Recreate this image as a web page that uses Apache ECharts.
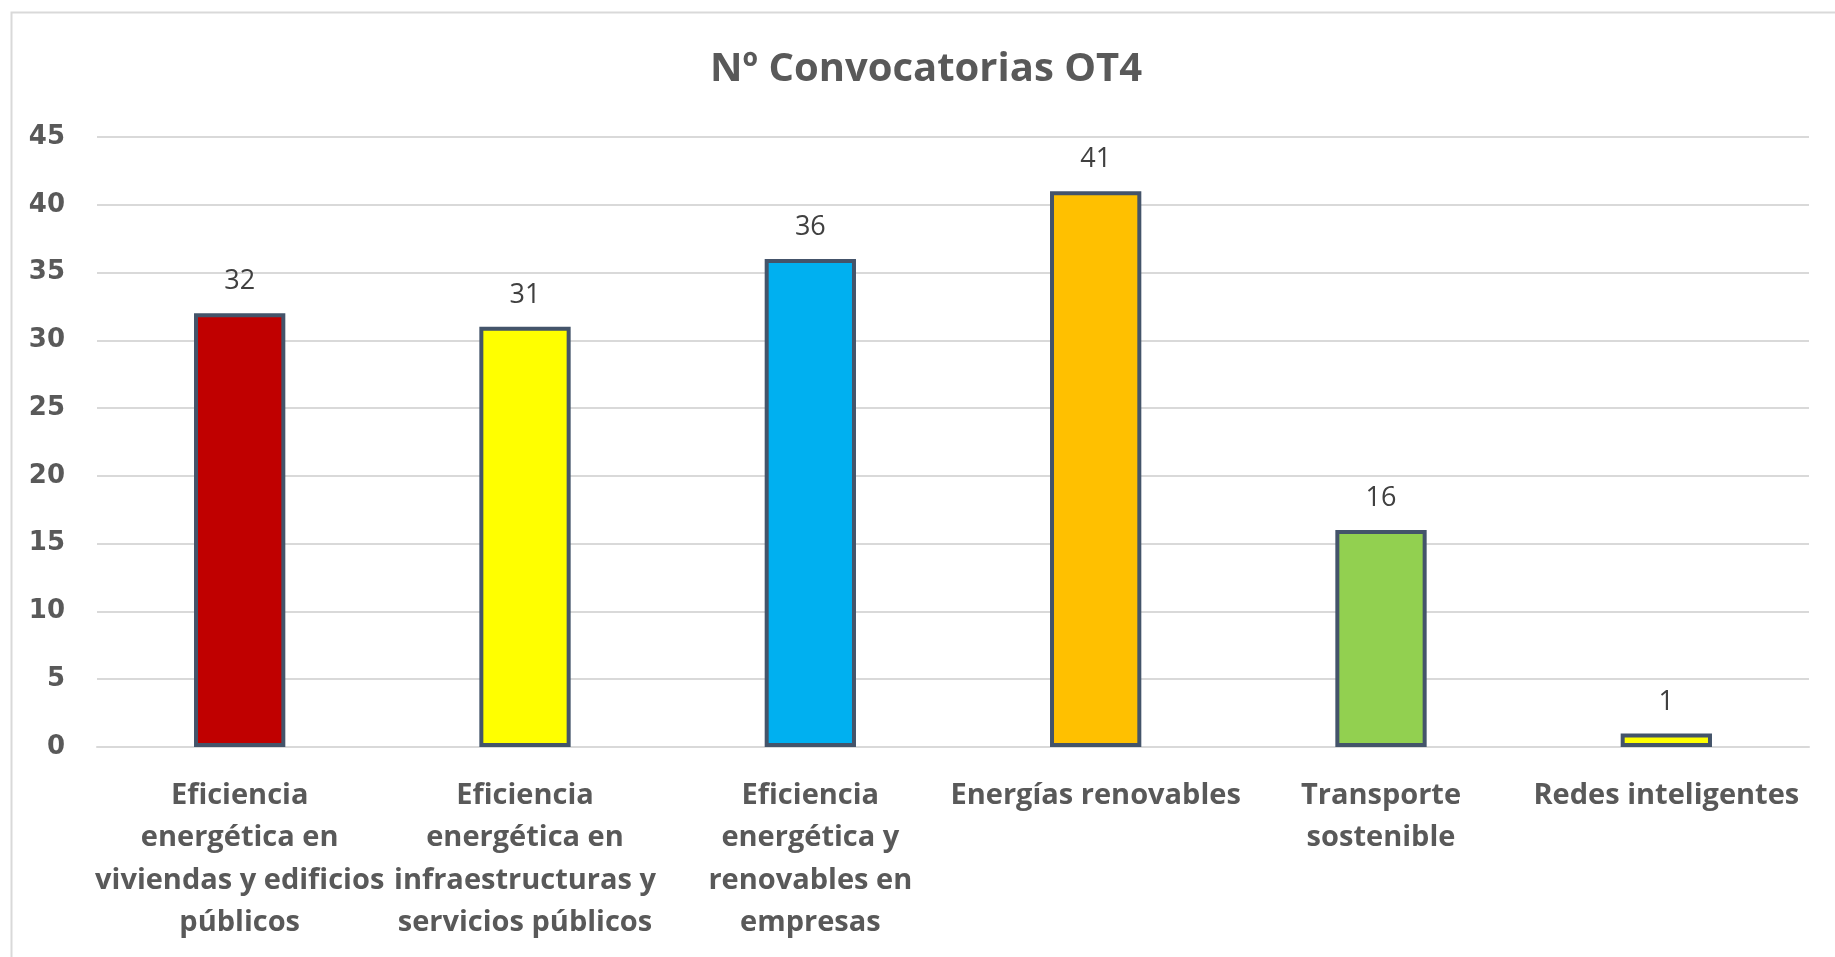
<!DOCTYPE html>
<html>
<head>
<meta charset="utf-8">
<script src="https://cdn.jsdelivr.net/npm/echarts@6/dist/echarts.min.js"></script>
<style>
html,body{margin:0;padding:0;background:#fff;}
#chart{width:1835px;height:957px;}
</style>
</head>
<body>
<div id="chart"></div>
<script>
const title = 'Nº Convocatorias OT4';
const categories = [
  'Eficiencia\nenergética en\nviviendas y edificios\npúblicos',
  'Eficiencia\nenergética en\ninfraestructuras y\nservicios públicos',
  'Eficiencia\nenergética y\nrenovables en\nempresas',
  'Energías renovables',
  'Transporte\nsostenible',
  'Redes inteligentes'
];
const values = [32, 31, 36, 41, 16, 1];
const barColors = ['#C00000', '#FFFF00', '#00B0F0', '#FFC000', '#92D050', '#FFFF00'];
const yTicks = {min: 0, max: 45, interval: 5};

const chart = echarts.init(document.getElementById('chart'), null, {renderer: 'canvas'});
chart.setOption({
  animation: false,
  backgroundColor: '#fff',
  graphic: [{
    type: 'rect', left: 9, top: 10, silent: true,
    shape: {width: 1900, height: 1000},
    style: {fill: 'none', stroke: '#D9D9D9', lineWidth: 2}
  }],
  title: {
    text: title, left: 705, top: 45,
    textStyle: {fontFamily: 'Open Sans, sans-serif', fontWeight: 'bold', fontSize: 40, color: '#595959'}
  },
  grid: {left: 97, right: 26, top: 137, bottom: 210, containLabel: false},
  xAxis: {
    type: 'category', data: categories,
    axisLine: {lineStyle: {color: '#D9D9D9', width: 2}},
    axisTick: {show: false},
    axisLabel: {interval: 0, margin: 27, lineHeight: 42.5, color: '#595959',
      fontFamily: 'Open Sans, sans-serif', fontWeight: 'bold', fontSize: 29}
  },
  yAxis: {
    type: 'value', min: yTicks.min, max: yTicks.max, interval: yTicks.interval,
    axisLine: {show: false}, axisTick: {show: false},
    splitLine: {lineStyle: {color: '#D9D9D9', width: 2}},
    axisLabel: {margin: 32, color: '#595959', fontFamily: 'DejaVu Sans, sans-serif', fontWeight: 'bold', fontSize: 26}
  },
  series: [{
    type: 'bar', barWidth: '32%',
    data: values.map((v, i) => ({value: v, itemStyle: {color: barColors[i]}})),
    itemStyle: {borderColor: '#44546A', borderWidth: 4},
    label: {show: true, position: 'top', distance: 18, color: '#404040',
      fontFamily: 'Open Sans, sans-serif', fontSize: 27}
  }]
});
</script>
</body>
</html>
